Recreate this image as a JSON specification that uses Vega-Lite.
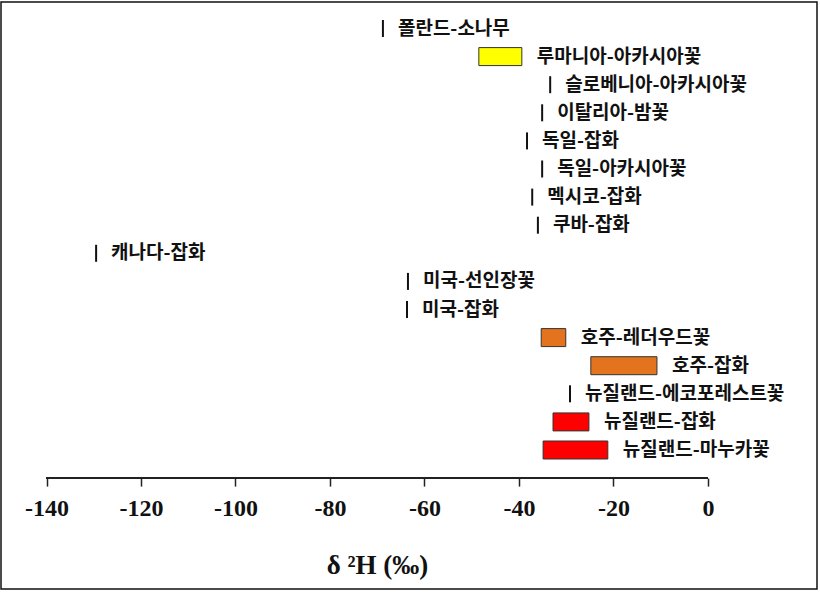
{
  "$schema": "https://vega.github.io/schema/vega-lite/v6.json",
  "width": 816,
  "height": 587,
  "autosize": "none",
  "padding": {"left": 1, "top": 2, "right": 3, "bottom": 5},
  "background": "white",
  "config": {"view": {"stroke": "#111", "strokeWidth": 1.5}},
  "data": {
    "values": [
      {"label": "폴란드-소나무", "country": "폴란드", "lo": -68.8, "hi": -68.8},
      {"label": "루마니아-아카시아꽃", "country": "루마니아", "lo": -48.5, "hi": -39.4},
      {"label": "슬로베니아-아카시아꽃", "country": "슬로베니아", "lo": -33.4, "hi": -33.4},
      {"label": "이탈리아-밤꽃", "country": "이탈리아", "lo": -35.1, "hi": -35.1},
      {"label": "독일-잡화", "country": "독일", "lo": -38.3, "hi": -38.3},
      {"label": "독일-아카시아꽃", "country": "독일", "lo": -35.1, "hi": -35.1},
      {"label": "멕시코-잡화", "country": "멕시코", "lo": -37.2, "hi": -37.2},
      {"label": "쿠바-잡화", "country": "쿠바", "lo": -36.0, "hi": -36.0},
      {"label": "캐나다-잡화", "country": "캐나다", "lo": -129.5, "hi": -129.5},
      {"label": "미국-선인장꽃", "country": "미국", "lo": -63.5, "hi": -63.5},
      {"label": "미국-잡화", "country": "미국", "lo": -63.7, "hi": -63.7},
      {"label": "호주-레더우드꽃", "country": "호주", "lo": -35.3, "hi": -30.1},
      {"label": "호주-잡화", "country": "호주", "lo": -24.8, "hi": -10.8},
      {"label": "뉴질랜드-에코포레스트꽃", "country": "뉴질랜드", "lo": -29.2, "hi": -29.2},
      {"label": "뉴질랜드-잡화", "country": "뉴질랜드", "lo": -32.8, "hi": -25.2},
      {"label": "뉴질랜드-마누카꽃", "country": "뉴질랜드", "lo": -34.9, "hi": -21.2}
    ]
  },
  "encoding": {
    "y": {
      "field": "label",
      "type": "nominal",
      "axis": null,
      "scale": {
        "domain": ["폴란드-소나무", "루마니아-아카시아꽃", "슬로베니아-아카시아꽃", "이탈리아-밤꽃", "독일-잡화", "독일-아카시아꽃", "멕시코-잡화", "쿠바-잡화", "캐나다-잡화", "미국-선인장꽃", "미국-잡화", "호주-레더우드꽃", "호주-잡화", "뉴질랜드-에코포레스트꽃", "뉴질랜드-잡화", "뉴질랜드-마누카꽃", "axis"],
        "range": [12.45, 490.15],
        "paddingInner": 0,
        "paddingOuter": 0
      }
    }
  },
  "layer": [
    {
      "mark": {"type": "rule", "color": "#222", "strokeWidth": 1.5},
      "encoding": {
        "x": {
          "datum": -140,
          "type": "quantitative",
          "scale": {"domain": [-149.63, 23.07], "nice": false, "zero": false},
          "axis": {
            "values": [-140, -120, -100, -80, -60, -40, -20, 0],
            "labelExpr": "replace(datum.label, '−', '-')",
            "offset": -110.9,
            "domain": false,
            "grid": false,
            "tickSize": 8,
            "tickWidth": 1.5,
            "tickColor": "#222",
            "labelFont": "Liberation Serif",
            "labelFontWeight": "bold",
            "labelFontSize": 24,
            "labelColor": "#111",
            "labelPadding": 10,
            "labelFlush": false,
            "labelOverlap": false,
            "title": "δ ²H (‰)",
            "titleFont": "Liberation Serif",
            "titleFontSize": 27,
            "titleFontWeight": "bold",
            "titleColor": "#111",
            "titleX": 376,
            "titleY": 95,
            "titleAlign": "center",
            "titleBaseline": "alphabetic"
          }
        },
        "x2": {"datum": 0},
        "y": {"datum": "axis", "type": "nominal"}
      }
    },
    {
      "transform": [{"filter": "datum.lo != datum.hi"}],
      "mark": {"type": "bar", "height": {"band": 0.64}, "stroke": "#333", "strokeWidth": 1},
      "encoding": {
        "x": {"field": "lo", "type": "quantitative"},
        "x2": {"field": "hi"},
        "color": {
          "field": "country",
          "type": "nominal",
          "legend": null,
          "scale": {"domain": ["루마니아", "호주", "뉴질랜드"], "range": ["#FFFF00", "#E3731C", "#FF0000"]}
        }
      }
    },
    {
      "transform": [{"filter": "datum.lo == datum.hi"}],
      "mark": {"type": "tick", "color": "#111", "thickness": 2, "size": 17, "opacity": 1},
      "encoding": {
        "x": {"field": "lo", "type": "quantitative"}
      }
    },
    {
      "mark": {"type": "text", "align": "left", "baseline": "middle", "dx": 15, "font": "Noto Sans CJK KR", "fontWeight": "bold", "fontSize": 19, "color": "#111"},
      "encoding": {
        "x": {"field": "hi", "type": "quantitative"},
        "text": {"field": "label"}
      }
    }
  ]
}
